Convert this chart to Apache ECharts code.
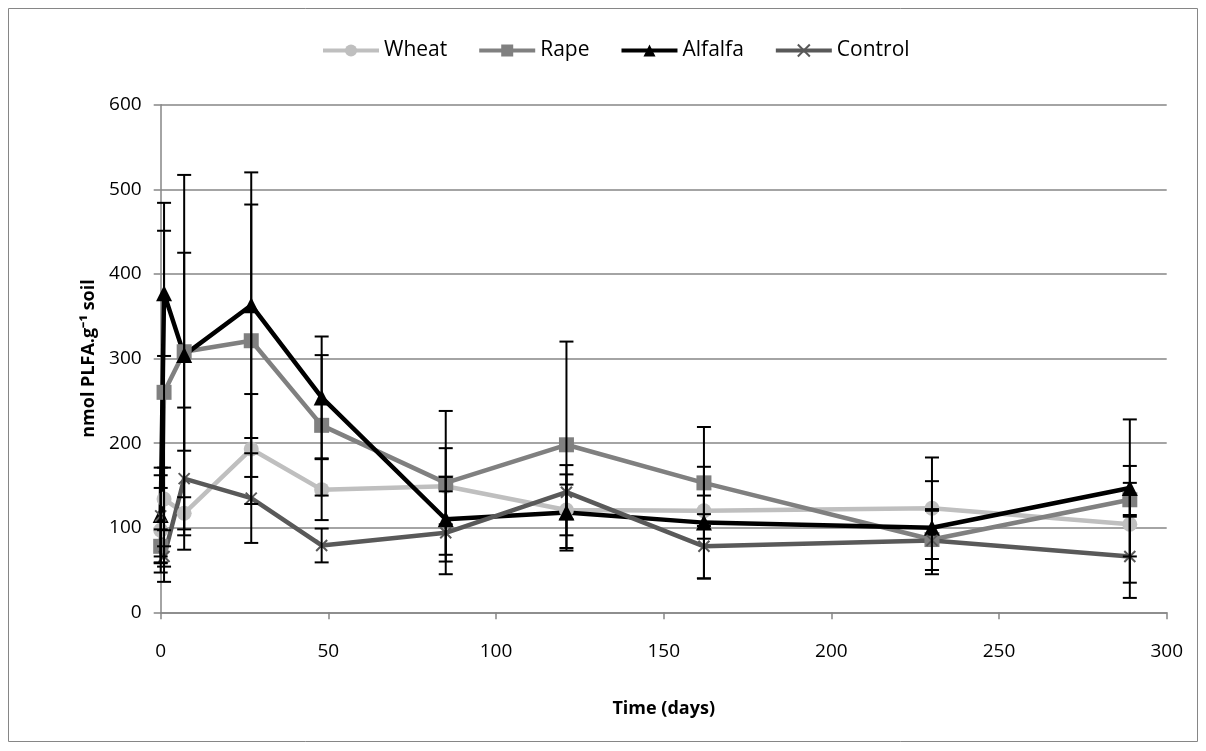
<!DOCTYPE html>
<html>
<head>
<meta charset="utf-8">
<script src="https://cdn.jsdelivr.net/npm/echarts@6/dist/echarts.min.js"></script>
<style>
html,body{margin:0;padding:0;background:#fff;}
#c{width:1206px;height:751px;}
</style>
</head>
<body>
<div id="c"></div>
<script>
// ---- data ----
var days = [0, 1, 7, 27, 48, 85, 121, 162, 230, 289];
var wheat = [97, 134, 117, 193, 145, 149, 121, 120, 123, 104];
var wheatErr = [50, 37, 19, 65, 36, 45, 30, 18, 60, 69];
var rape = [78, 260, 308, 321, 221, 153, 198, 153, 86, 133];
var rapeErr = [20, 224, 117, 161, 83, 85, 122, 66, 36, 20];
var alfalfa = [115, 377, 304, 363, 254, 110, 118, 106, 100, 147];
var alfalfaErr = [56, 74, 213, 157, 72, 50, 45, 66, 55, 81];
var control = [114, 66, 158, 135, 79, 94, 142, 78, 85, 66];
var controlErr = [48, 12, 84, 53, 20, 49, 32, 38, 35, 49];
var seriesNames = ['Wheat', 'Rape', 'Alfalfa', 'Control'];
var xTicks = [0, 50, 100, 150, 200, 250, 300];
var yTicks = [0, 100, 200, 300, 400, 500, 600];

var FONT = '"Open Sans", "Liberation Sans", sans-serif';
var chart = echarts.init(document.getElementById('c'), null, {renderer: 'canvas'});

function pts(vals) { return days.map(function (d, i) { return [d, vals[i]]; }); }
function errs(vals, e) { return days.map(function (d, i) { return [d, vals[i] - e[i], vals[i] + e[i]]; }); }

function errSeries(vals, e) {
  return {
    type: 'custom',
    data: errs(vals, e),
    z: 5,
    silent: true,
    renderItem: function (params, api) {
      var x = api.value(0);
      var lo = api.coord([x, api.value(1)]);
      var hi = api.coord([x, api.value(2)]);
      var hw = 7;
      var st = {stroke: '#000', lineWidth: 2};
      return {
        type: 'group',
        children: [
          {type: 'line', shape: {x1: lo[0], y1: lo[1], x2: hi[0], y2: hi[1]}, style: st},
          {type: 'line', shape: {x1: lo[0] - hw, y1: lo[1], x2: lo[0] + hw, y2: lo[1]}, style: st},
          {type: 'line', shape: {x1: hi[0] - hw, y1: hi[1], x2: hi[0] + hw, y2: hi[1]}, style: st}
        ]
      };
    }
  };
}

function lineSeries(name, vals, color, symbol, size, extra) {
  var s = {
    name: name,
    type: 'line',
    data: pts(vals),
    symbol: symbol,
    symbolSize: size,
    showAllSymbol: true,
    z: 3,
    lineStyle: {color: color, width: 4.5},
    itemStyle: {color: color},
    emphasis: {disabled: true}
  };
  if (extra) { for (var k in extra) s[k] = extra[k]; }
  return s;
}

var xMark = 'path://M0 0L10 10M10 0L0 10';

var option = {
  backgroundColor: '#fff',
  animation: false,
  textStyle: {fontFamily: FONT},
  graphic: [{
    type: 'rect',
    shape: {x: 8.5, y: 8.5, width: 1189, height: 733},
    style: {fill: 'none', stroke: '#868686', lineWidth: 1},
    silent: true
  }],
  legend: {
    top: 35,
    left: 316,
    itemGap: 30,
    itemWidth: 56,
    itemHeight: 15,
    lineStyle: {width: 4},
    textStyle: {fontFamily: FONT, fontSize: 21, color: '#000'},
    data: seriesNames
  },
  grid: {left: 160.7, right: 39.3, top: 104.7, bottom: 138.7, containLabel: false},
  xAxis: {
    type: 'value', min: 0, max: 300, interval: 50,
    name: 'Time (days)', nameLocation: 'middle', nameGap: 88,
    nameTextStyle: {fontFamily: FONT, fontSize: 18, fontWeight: 'bold', color: '#000'},
    axisLine: {show: true, onZero: false, lineStyle: {color: '#868686', width: 1.5}},
    axisTick: {show: true, length: 7, lineStyle: {color: '#868686', width: 1.5}},
    axisLabel: {fontFamily: FONT, fontSize: 19, color: '#000', margin: 30,
      formatter: function (v) { return xTicks.indexOf(v) >= 0 ? String(v) : ''; }},
    splitLine: {show: false}
  },
  yAxis: {
    type: 'value', min: 0, max: 600, interval: 100,
    name: 'nmol PLFA.g⁻¹ soil', nameLocation: 'middle', nameGap: 62, nameRotate: 90,
    nameTextStyle: {fontFamily: FONT, fontSize: 18, fontWeight: 'bold', color: '#000'},
    axisLine: {show: true, lineStyle: {color: '#868686', width: 1.5}},
    axisTick: {show: true, length: 7, lineStyle: {color: '#868686', width: 1.5}},
    axisLabel: {fontFamily: FONT, fontSize: 19, color: '#000', margin: 19,
      formatter: function (v) { return yTicks.indexOf(v) >= 0 ? String(v) : ''; }},
    splitLine: {show: true, lineStyle: {color: '#868686', width: 1.5}}
  },
  series: [
    errSeries(wheat, wheatErr),
    errSeries(rape, rapeErr),
    errSeries(alfalfa, alfalfaErr),
    errSeries(control, controlErr),
    lineSeries('Wheat', wheat, '#BFBFBF', 'circle', 15),
    lineSeries('Rape', rape, '#808080', 'rect', 15),
    lineSeries('Alfalfa', alfalfa, '#000000', 'triangle', 16),
    lineSeries('Control', control, '#595959', xMark, 11,
      {itemStyle: {color: '#595959', borderColor: '#595959', borderWidth: 2}})
  ]
};
chart.setOption(option);
</script>
</body>
</html>
